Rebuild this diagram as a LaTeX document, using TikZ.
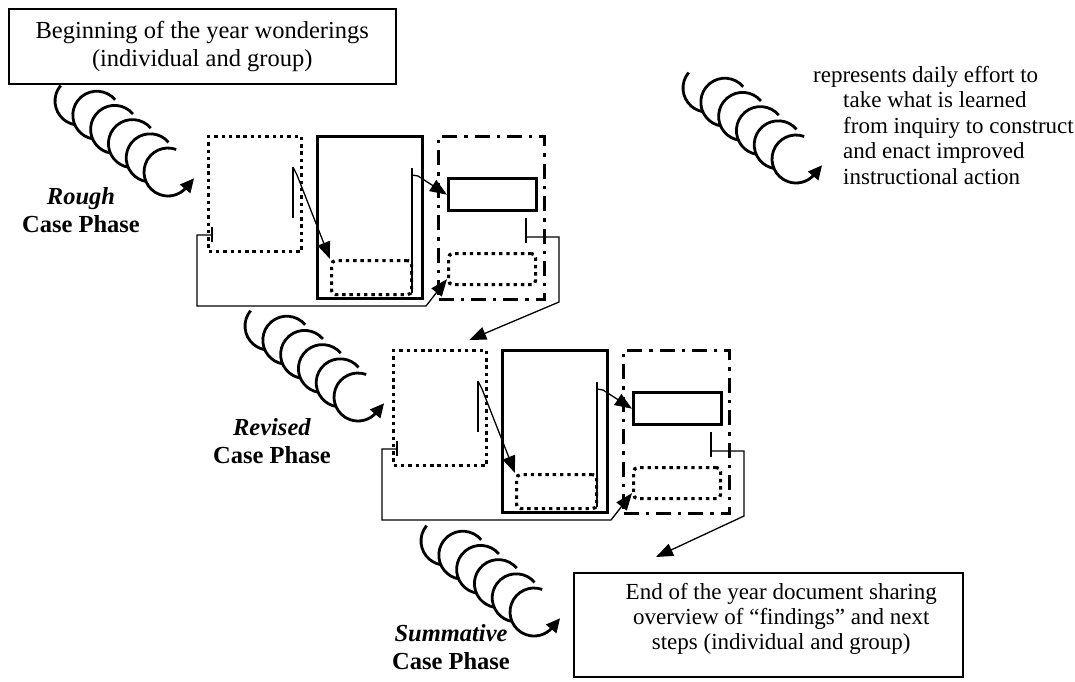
\documentclass[tikz,border=0pt]{standalone}
\usepackage{fontspec}
\setmainfont{Liberation Serif}
\usetikzlibrary{positioning,arrows.meta}

\newcommand{\casefont}{\fontsize{24.5}{28}\selectfont}
\newcommand{\notefont}{\fontsize{23}{25.5}\selectfont}
\newcommand{\closefont}{\fontsize{23}{25}\selectfont}

\tikzset{
    casedot/.style={draw, line width=3.2pt, dash pattern=on 3.4pt off 3.9pt, inner sep=0pt},
    casesolid/.style={draw, line width=3.4pt, inner sep=0pt},
    casedashdot/.style={draw, line width=3.2pt, dash pattern=on 15pt off 7pt on 3.4pt off 7pt, inner sep=0pt},
    caseinner/.style={casedot, rounded corners=4pt},
    caseline/.style={draw, line width=1.3pt},
    casearrow/.style={draw, line width=1.3pt, -{Triangle[length=17pt, width=13pt]}},
    casecoil/.style={draw, line width=2.8pt, fill=white},
    casebox/.style={draw, line width=1.5pt, fill=white, align=center, inner sep=0pt},
    caselabel/.style={align=center, font=\casefont\bfseries}
}

\begin{document}
\begin{tikzpicture}[x=1pt, y=-1pt]
    \useasboundingbox (0,0) rectangle (1075,681);

    % coils, given by the tip of their arrow
    \foreach \tx/\ty in {197/180, 387/405, 563/620, 825/167} {
        \coordinate (tip) at (\tx,\ty);
        \draw[casecoil] ([shift={(-118,-79)}]tip) ++(-140:24) arc[start angle=-140, end angle=-300, radius=24];
        \foreach \k in {1,...,4} {
            \draw[casecoil] ([shift={({-118+17.8*\k},{-79+14.2*\k})}]tip) ++(-40:24) arc[start angle=-40, end angle=-300, radius=24];
        }
        \draw[casecoil, -{Triangle[length=14pt, width=13pt]}] ([shift={(-29,-8)}]tip) ++(-70:24) arc[start angle=-70, end angle=-320, radius=24] -- ++(7.7,-9.2);
    }

    % rough and revised phases
    \foreach \ph/\sx/\sy in {r/0/0, v/185/214} {
        \begin{scope}[shift={(\sx,\sy)}]
            \node[casedot, minimum width=93pt, minimum height=115pt, anchor=north west] (\ph A) at (207,135) {};
            \node[casesolid, minimum width=105pt, minimum height=162pt, anchor=north west] (\ph B) at (316,135) {};
            \node[casedashdot, minimum width=106pt, minimum height=163pt, anchor=north west] (\ph C) at (437,135) {};
            \node[casesolid, minimum width=88pt, minimum height=32pt, anchor=north west] (\ph C1) at (447,177) {};
            \node[caseinner, minimum width=87pt, minimum height=31pt, anchor=north west] (\ph C2) at (447,252) {};
            \node[caseinner, minimum width=80pt, minimum height=34pt, anchor=north west] (\ph B1) at (330,259) {};

            \coordinate (\ph la) at (293,167);
            \coordinate (\ph lb) at (412,168);
            \coordinate (\ph lc) at (526,218);
            \coordinate (\ph lt) at (212,227);
            \coordinate (\ph out) at (526,237);
            \draw[caseline] (\ph la) -- ++(0,51);
            \draw[caseline] (\ph lb) -- ++(0,125);
            \draw[caseline] (\ph lc) -- ++(0,25);
            \draw[caseline] (\ph lt) -- ++(0,15);
            \draw[casearrow] (\ph la) -- ++(4,8) -- (\ph B1.north west);
            \draw[casearrow] ([yshift=-7pt]\ph lb) -- ++(6,1) -- (\ph C1.west);
            \draw[casearrow] ([yshift=-8pt]\ph lt) -- ++(-15,0) -- ++(0,71) -- ++(229,0) -- ([yshift=-10pt]\ph C2.west);
        \end{scope}
    }

    \node[casebox, font=\casefont, minimum width=387pt, minimum height=75pt, anchor=north west] (begin) at (8,8) {Beginning of the year wonderings\\(individual and group)};
    \node[casebox, font=\closefont, minimum width=389pt, minimum height=104pt, text depth=17pt, anchor=north west] (endbox) at (573,572) {\hspace*{26pt}End of the year document sharing\\\hspace*{26pt}overview of “findings” and next\\\hspace*{26pt}steps (individual and group)};

    \node[caselabel] (rough) at (81,210) {\textit{Rough}\\Case Phase};
    \node[caselabel] (revised) at (272,441) {\textit{Revised}\\Case Phase};
    \node[caselabel] (summative) at (451,647) {\textit{Summative}\\Case Phase};

    \node[align=left, font=\notefont, inner sep=0pt, anchor=north west] (legend) at (813,66) {represents daily effort to\\\hspace*{30pt}take what is learned\\\hspace*{30pt}from inquiry to construct\\\hspace*{30pt}and enact improved\\\hspace*{30pt}instructional action};

    \coordinate (vin) at ([shift={(-19,-9)}]vA.north east);
    \coordinate (endin) at ([shift={(83,-15)}]endbox.north west);
    \draw[casearrow] (rout) -- ++(33,0) -- ++(0,65) -- (vin);
    \draw[casearrow] (vout) -- ++(33,0) -- ++(0,65) -- (endin);
\end{tikzpicture}
\end{document}
